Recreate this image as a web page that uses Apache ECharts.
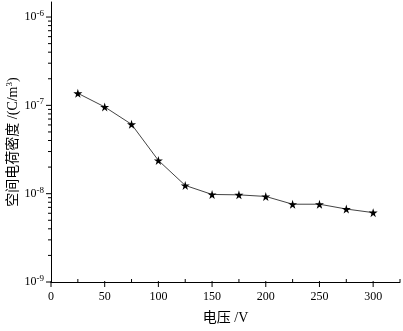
<!DOCTYPE html>
<html>
<head>
<meta charset="utf-8">
<script src="https://cdn.jsdelivr.net/npm/echarts@6/dist/echarts.min.js"></script>
<style>
	html, body { margin: 0; padding: 0; background: #fff; }
	#chart { width: 403px; height: 331px; }
</style>
</head>
<body>
<div id="chart"></div>
<script>
	// 数据：电压 (V) 与空间电荷密度 (C/m^3)
	var voltage = [25, 50, 75, 100, 125, 150, 175, 200, 225, 250, 275, 300];
	var density = [1.37e-7, 9.6e-8, 6.1e-8, 2.38e-8, 1.24e-8, 9.8e-9, 9.7e-9, 9.3e-9, 7.6e-9, 7.6e-9, 6.7e-9, 6.1e-9];

	// 刻度
	var xMajorTicks = [0, 50, 100, 150, 200, 250, 300];
	var xMinorTicks = [25, 75, 125, 175, 225, 275, 325];
	var yMajorTicks = [1e-9, 1e-8, 1e-7, 1e-6];
	var yMinorMantissa = [2, 3, 4, 5, 6, 7, 8, 9];
	var yDecades = [-9, -8, -7];

	var serif = 'Liberation Serif, Noto Sans CJK SC';
	var starPath = 'path://M50,0 L61,35 L98,35 L68,57 L79,91 L50,70 L21,91 L32,57 L2,35 L39,35 Z';

	// 自绘刻度：[x, y, 类型] 0=y主 1=y次 2=x主 3=x次
	var tickData = [];
	yMajorTicks.forEach(function(v) { tickData.push([0, v, 0]); });
	yDecades.forEach(function(d) {
		yMinorMantissa.forEach(function(m) {
			tickData.push([0, m * Math.pow(10, d), 1]);
		});
	});
	xMajorTicks.forEach(function(v) { tickData.push([v, 1e-9, 2]); });
	xMinorTicks.forEach(function(v) { tickData.push([v, 1e-9, 3]); });

	function renderTick(params, api) {
		var p = api.coord([api.value(0), api.value(1)]);
		var kind = api.value(2);
		var shape;
		if(kind == 0) {
			shape = { x1: p[0] - 5, y1: p[1], x2: p[0] + 1, y2: p[1] };
		} else if(kind == 1) {
			shape = { x1: p[0] - 3, y1: p[1], x2: p[0], y2: p[1] };
		} else if(kind == 2) {
			shape = { x1: p[0], y1: p[1] - 1, x2: p[0], y2: p[1] + 5 };
		} else {
			shape = { x1: p[0], y1: p[1] - 3, x2: p[0], y2: p[1] };
		}
		return {
			type: 'line',
			shape: shape,
			style: { stroke: '#000', lineWidth: 1 }
		};
	}

	var chart = echarts.init(document.getElementById('chart'), null, { renderer: 'canvas' });

	chart.setOption({
		backgroundColor: '#fff',
		animation: false,
		grid: { left: 51, right: 3, top: 2, bottom: 49, containLabel: false, outerBoundsMode: 'none' },
		xAxis: {
			type: 'value',
			min: 0,
			max: 325,
			interval: 50,
			name: '电压 /V',
			nameLocation: 'middle',
			nameGap: 29,
			nameMoveOverlap: false,
			nameTextStyle: { fontFamily: serif, fontSize: 14, color: '#000' },
			axisLine: { show: true, lineStyle: { color: '#000', width: 1 } },
			axisTick: { show: false },
			splitLine: { show: false },
			axisLabel: {
				showMaxLabel: false,
				margin: 9,
				fontFamily: serif,
				fontSize: 12,
				color: '#000'
			}
		},
		yAxis: {
			type: 'log',
			logBase: 10,
			min: 1e-9,
			max: 1.48e-6,
			name: '{n|空间电荷密度 /(C/m}{sup|3}{n|)}',
			nameLocation: 'middle',
			nameRotate: 90,
			nameGap: 29,
			nameMoveOverlap: false,
			nameTextStyle: {
				rich: {
					n: { fontFamily: serif, fontSize: 14, color: '#000' },
					sup: { fontFamily: serif, fontSize: 9, color: '#000', verticalAlign: 'bottom', padding: [0, 0, 8, 0] }
				}
			},
			axisLine: { show: true, lineStyle: { color: '#000', width: 1 } },
			axisTick: { show: false },
			splitLine: { show: false },
			axisLabel: {
				showMaxLabel: false,
				margin: 7,
				formatter: function(value) {
					var e = Math.round(Math.log(value) / Math.LN10);
					return '{b|10}{sup|' + e + '}';
				},
				rich: {
					b: { fontFamily: serif, fontSize: 12, color: '#000' },
					sup: { fontFamily: serif, fontSize: 9, color: '#000', verticalAlign: 'bottom', padding: [0, 0, 7, 0] }
				}
			}
		},
		series: [{
			type: 'line',
			data: voltage.map(function(v, i) { return [v, density[i]]; }),
			symbol: starPath,
			symbolSize: 9,
			showAllSymbol: true,
			itemStyle: { color: '#000' },
			lineStyle: { color: '#444', width: 1 },
			z: 3
		}, {
			type: 'custom',
			renderItem: renderTick,
			data: tickData,
			clip: false,
			silent: true,
			z: 2
		}]
	});
</script>
</body>
</html>
